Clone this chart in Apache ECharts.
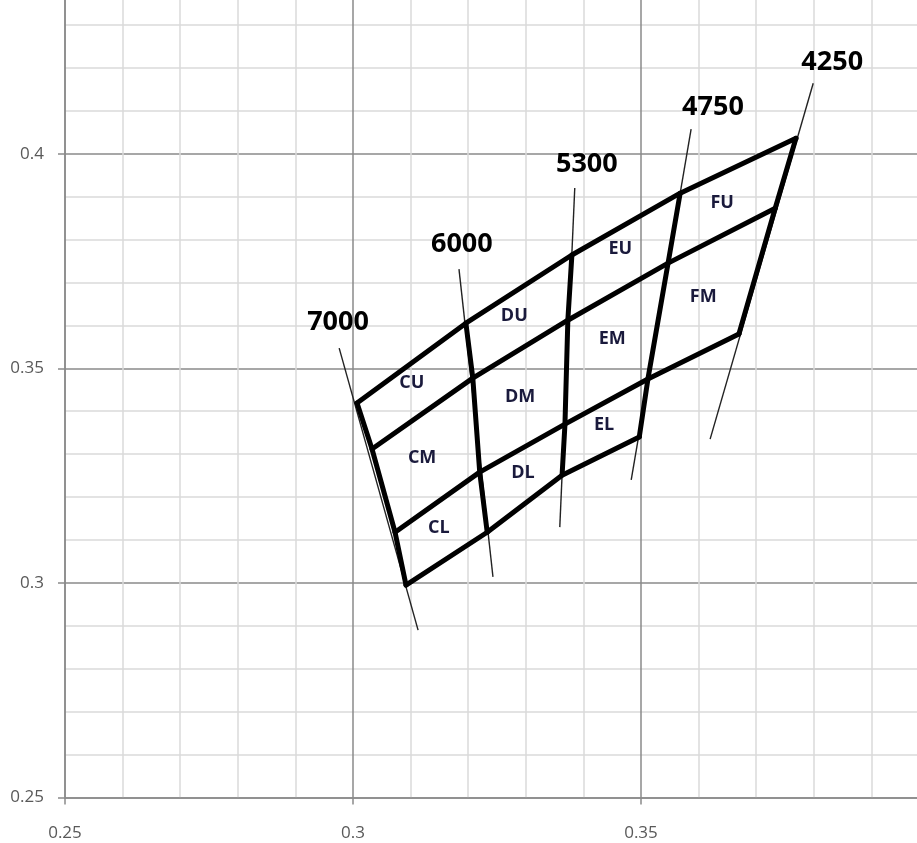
<!DOCTYPE html>
<html>
<head>
<meta charset="utf-8">
<title>CCT bins</title>
<script src="https://cdn.jsdelivr.net/npm/echarts@6/dist/echarts.min.js"></script>
<style>
  html, body { margin: 0; padding: 0; background: #fff; }
  #chart { width: 917px; height: 843px; }
</style>
</head>
<body>
<div id="chart"></div>
<script>
// CCT columns, left to right
const cctNames = ['7000', '6000', '5300', '4750', '4250'];

// bin boundary lines (x, y), one point per CCT column
const rowTop = [[0.3007, 0.3419], [0.3196, 0.3605], [0.3380, 0.3764], [0.3568, 0.3908], [0.3769, 0.4036]];
const rowUpperMid = [[0.3033, 0.3312], [0.3208, 0.3477], [0.3373, 0.3612], [0.3547, 0.3745], [0.3733, 0.3873]];
const rowLowerMid = [[0.3073, 0.3118], [0.3220, 0.3258], [0.3368, 0.3370], [0.3512, 0.3475], [0.3670, 0.3580]];
const rowBottom = [[0.3092, 0.2995], [0.3233, 0.3118], [0.3363, 0.3251], [0.3497, 0.3340]]; // no FL bin

// thin CCT lines, top and bottom ends
const cctLineTop = [[0.2976, 0.3547], [0.3184, 0.3731], [0.3385, 0.3920], [0.3587, 0.4057], [0.3799, 0.4164]];
const cctLineBottom = [[0.3113, 0.2890], [0.3243, 0.3014], [0.3359, 0.3130], [0.3483, 0.3240], [0.3620, 0.3335]];
const cctLabelAt = [[0.2974, 0.3608], [0.3189, 0.3789], [0.3406, 0.3976], [0.3625, 0.4108], [0.3832, 0.4213]];

// bin names and where they sit
const binNames = ['CU', 'CM', 'CL', 'DU', 'DM', 'DL', 'EU', 'EM', 'EL', 'FU', 'FM'];
const binLabelAt = [
  [0.3102, 0.3466], [0.3120, 0.3291], [0.3149, 0.3128],
  [0.3280, 0.3622], [0.3290, 0.3433], [0.3295, 0.3256],
  [0.3464, 0.3778], [0.3450, 0.3568], [0.3436, 0.3368],
  [0.3641, 0.3885], [0.3608, 0.3666],
];

const myChart = echarts.init(document.getElementById('chart'));

const rows = [rowTop, rowUpperMid, rowLowerMid, rowBottom];
// a column is the i-th point of every row that has one
const columns = cctNames.map((_, i) => rows.filter((r) => r[i]).map((r) => r[i]));

function thick(points) {
  return {
    type: 'line',
    data: points,
    symbol: 'none',
    silent: true,
    z: 3,
    lineStyle: { color: '#000', width: 5, cap: 'round', join: 'round' },
  };
}

function textMarks(names, at, size, color) {
  return {
    type: 'scatter',
    symbolSize: 0,
    silent: true,
    z: 4,
    itemStyle: { opacity: 1 },
    data: names.map((name, i) => ({ name: name, value: at[i] })),
    label: {
      show: true,
      position: 'inside',
      formatter: '{b}',
      fontFamily: 'Open Sans',
      fontWeight: 'bold',
      fontSize: size,
      color: color,
      opacity: 1,
      textBorderWidth: 0,
    },
  };
}

const series = [];
// thin CCT lines under the bins
cctNames.forEach((name, i) => {
  series.push({
    type: 'line',
    data: [cctLineTop[i], cctLineBottom[i]],
    symbol: 'none',
    silent: true,
    z: 2,
    lineStyle: { color: '#222', width: 1.4 },
  });
});
rows.forEach((r) => series.push(thick(r)));
columns.forEach((c) => series.push(thick(c)));
series.push(textMarks(cctNames, cctLabelAt, 27, '#000')); // CCT numbers
series.push(textMarks(binNames, binLabelAt, 18, '#1a1a3c')); // bin names

const axisCommon = {
  type: 'value',
  interval: 0.05,
  axisLine: { show: true, lineStyle: { color: '#8a8a8a', width: 1.5 } },
  axisTick: { show: true, inside: false, length: 7, lineStyle: { color: '#8a8a8a', width: 1.5 } },
  splitLine: { show: true, lineStyle: { color: '#8a8a8a', width: 1.5 } },
  minorTick: { show: false, splitNumber: 5 },
  minorSplitLine: { show: true, lineStyle: { color: '#dadada', width: 1.5 } },
  axisLabel: { fontFamily: 'Open Sans', fontSize: 17, color: '#595959' },
};

myChart.setOption({
  animation: false,
  grid: { left: 65, right: -12, top: -18, bottom: 45.5, containLabel: false, outerBoundsMode: 'none' },
  xAxis: Object.assign({}, axisCommon, {
    min: 0.25,
    max: 0.4,
    axisLabel: Object.assign({}, axisCommon.axisLabel, { margin: 27 }),
  }),
  yAxis: Object.assign({}, axisCommon, {
    min: 0.25,
    max: 0.44,
    axisLabel: Object.assign({}, axisCommon.axisLabel, { margin: 21 }),
  }),
  series: series,
});
</script>
</body>
</html>
